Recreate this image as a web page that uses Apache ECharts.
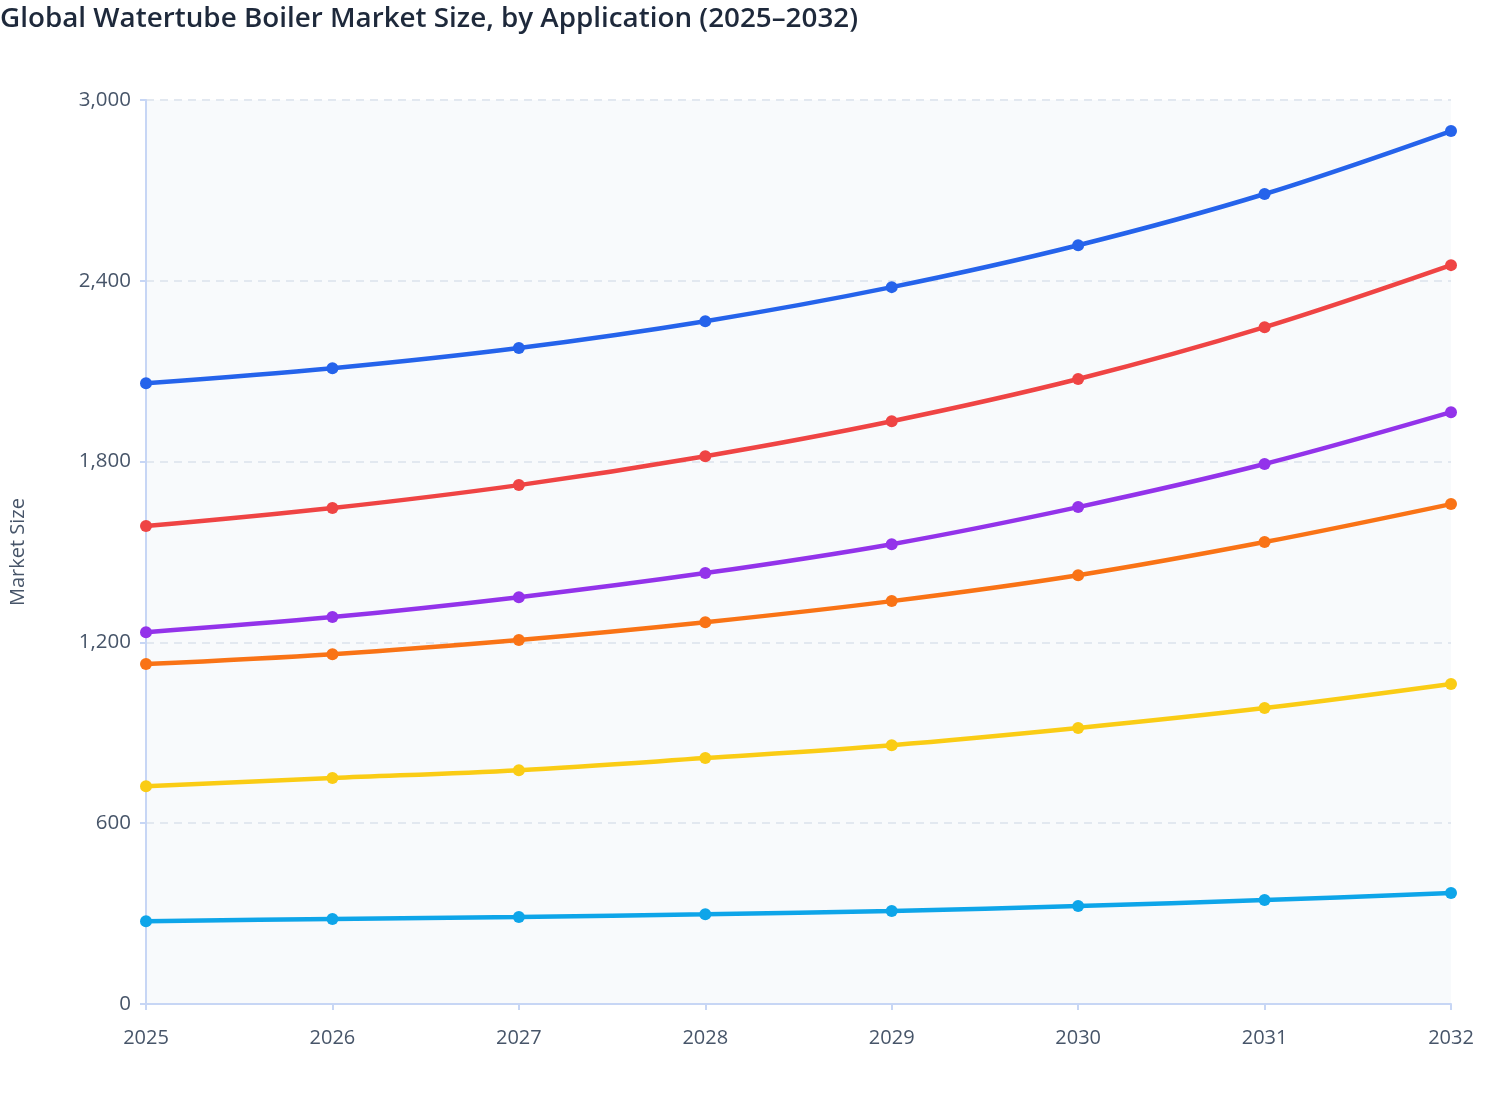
<!DOCTYPE html>
<html>
<head>
<meta charset="utf-8">
<script src="https://cdn.jsdelivr.net/npm/echarts@6/dist/echarts.min.js"></script>
<style>html,body{margin:0;padding:0;background:#fff}#c{width:1508px;height:1120px}</style>
</head>
<body>
<div id="c"></div>
<script>
const years = ['2025','2026','2027','2028','2029','2030','2031','2032'];
const yTicks = [0, 600, 1200, 1800, 2400, 3000];
const powerGeneration = [2060, 2110, 2177, 2266, 2379, 2518, 2688, 2897];
const oilGas = [1586, 1646, 1722, 1818, 1934, 2074, 2246, 2452];
const chemical = [1234, 1284, 1350, 1430, 1526, 1649, 1792, 1964];
const pulpPaper = [1128, 1161, 1208, 1267, 1337, 1423, 1533, 1659];
const foodBeverage = [723, 750, 776, 816, 859, 916, 982, 1062];
const others = [275, 282, 289, 298, 309, 325, 345, 368];

const seriesDefs = [
  {name: 'Power Generation', data: powerGeneration, color: '#2563eb'},
  {name: 'Oil & Gas', data: oilGas, color: '#ef4444'},
  {name: 'Chemical', data: chemical, color: '#9333ea'},
  {name: 'Pulp & Paper', data: pulpPaper, color: '#f97316'},
  {name: 'Food & Beverage', data: foodBeverage, color: '#facc15'},
  {name: 'Others', data: others, color: '#0ea5e9'}
];

const chart = echarts.init(document.getElementById('c'));
chart.setOption({
  backgroundColor: '#ffffff',
  textStyle: {fontFamily: 'Open Sans'},
  title: {
    text: 'Global Watertube Boiler Market Size, by Application (2025\u20132032)',
    left: -5, top: 0,
    textStyle: {fontFamily: 'Open Sans', fontSize: 27.8, fontWeight: 600, color: '#1e293b'}
  },
  grid: {left: 142, right: 57, top: 100, bottom: 116, show: true, backgroundColor: '#f8fafc', borderWidth: 0},
  xAxis: {
    type: 'category', data: years, boundaryGap: false,
    axisLine: {lineStyle: {color: '#c7d6f5', width: 2}},
    axisTick: {show: true, alignWithLabel: true, length: 6, lineStyle: {color: '#c7d6f5', width: 2}},
    axisLabel: {color: '#475569', fontSize: 20, margin: 24, fontFamily: 'Open Sans'},
    splitLine: {show: false}
  },
  yAxis: {
    type: 'value', min: 0, max: 3000, interval: 600,
    name: 'Market Size', nameLocation: 'middle', nameGap: 118, nameRotate: 90,
    nameTextStyle: {color: '#475569', fontSize: 20, fontFamily: 'Open Sans'},
    axisLine: {show: true, lineStyle: {color: '#c7d6f5', width: 2}},
    axisTick: {show: true, length: 6, lineStyle: {color: '#c7d6f5', width: 2}},
    axisLabel: {color: '#475569', fontSize: 20.5, margin: 15, fontFamily: 'Open Sans',
      formatter: v => yTicks.includes(v) ? v.toLocaleString('en-US') : ''},
    splitLine: {show: true, lineStyle: {color: '#e2e8f0', type: [8, 6], width: 2}}
  },
  series: seriesDefs.map(s => ({
    name: s.name, type: 'line', data: s.data, smooth: 0.35,
    symbol: 'circle', symbolSize: 12,
    lineStyle: {color: s.color, width: 4.5},
    itemStyle: {color: s.color},
    z: 3
  }))
});
</script>
</body>
</html>
